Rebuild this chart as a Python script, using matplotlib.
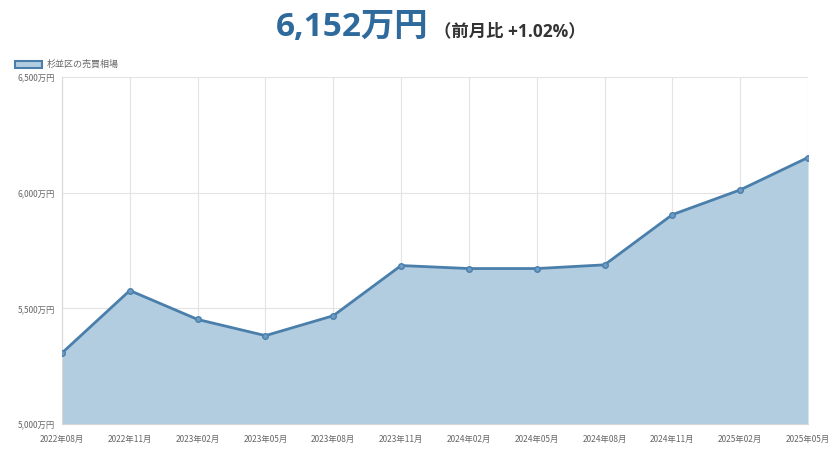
import matplotlib
matplotlib.use("Agg")
import matplotlib.pyplot as plt
import matplotlib.patches as patches
from matplotlib.ticker import FuncFormatter

plt.rcParams['font.family'] = ['Noto Sans CJK JP', 'DejaVu Sans']

months = ["2022年08月", "2022年11月", "2023年02月", "2023年05月", "2023年08月", "2023年11月",
          "2024年02月", "2024年05月", "2024年08月", "2024年11月", "2025年02月", "2025年05月"]
prices = [5307, 5577, 5452, 5382, 5468, 5685, 5672, 5672, 5688, 5905, 6012, 6152]
yticks = [5000, 5500, 6000, 6500]
series_name = "杉並区の売買相場"

line_c = "#4a7fab"
fill_c = "#b2cce0"

fig = plt.figure(figsize=(8.39, 4.51), dpi=100)
ax = fig.add_axes([62/839, 1-424/451, (808-62)/839, (424-77)/451])

x = list(range(len(months)))
ax.fill_between(x, prices, 5000, color=fill_c, lw=0, zorder=2)
ax.plot(x, prices, color=line_c, lw=2, marker='o', ms=4, mfc="#6f9cc4", mec=line_c, zorder=3)

ax.set_xlim(0, len(months)-1)
ax.set_ylim(5000, 6500)
ax.set_xticks(x)
ax.set_xticklabels(months)
ax.set_yticks(yticks)
ax.yaxis.set_major_formatter(FuncFormatter(lambda v, p: f"{int(v):,}万円"))
ax.tick_params(labelsize=6, colors="#666666", length=0)
ax.tick_params(axis='x', pad=8)
ax.tick_params(axis='y', pad=5)
ax.grid(True, color="#e3e3e3", lw=0.8, zorder=0)
for s in ax.spines.values():
    s.set_visible(False)
ax.spines['left'].set_visible(True)
ax.spines['left'].set_color("#d8d8d8")
ax.spines['bottom'].set_visible(True)
ax.spines['bottom'].set_color("#d8d8d8")

# title
title_font = ['Open Sans', 'Noto Sans CJK JP']
fig.text(428/839, 1-27/451, "6,152万円", ha='right', va='center', fontsize=24, fontweight='bold',
         color="#2f6a9c", family=title_font)
fig.text(434/839, 1-31/451, "（前月比 +1.02%）", ha='left', va='center', fontsize=12.5, fontweight='bold',
         color="#333333", family=title_font)

# legend
fig.patches.append(patches.Rectangle((15/839, 1-68/451), 27/839, 7/451, transform=fig.transFigure,
                                     facecolor=fill_c, edgecolor=line_c, lw=1.5))
fig.text(47/839, 1-64.5/451, series_name, ha='left', va='center', fontsize=6.5, color="#666666")

fig.savefig("out.png", dpi=100)
